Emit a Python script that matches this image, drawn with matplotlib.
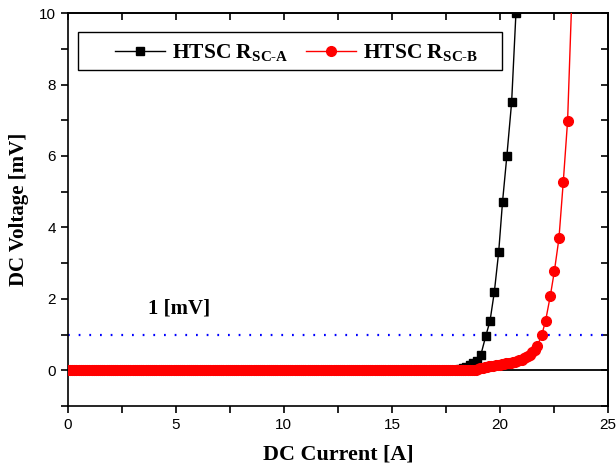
import matplotlib.pyplot as plt
from matplotlib.patches import Rectangle

plt.rcParams['mathtext.fontset'] = 'custom'
plt.rcParams['mathtext.rm'] = 'Liberation Serif'
plt.rcParams['mathtext.bf'] = 'Liberation Serif:bold'

# sample A (black squares)
current_a = [0, 0.5, 1, 1.5, 2, 2.5, 3, 3.5, 4, 4.5, 5, 5.5, 6, 6.5, 7, 7.5, 8, 8.5, 9, 9.5,
             10, 10.5, 11, 11.5, 12, 12.5, 13, 13.5, 14, 14.5, 15, 15.5, 16, 16.5, 17, 17.5,
             18.0, 18.15, 18.3, 18.45, 18.6, 18.74, 18.92, 19.12, 19.34, 19.54, 19.74, 19.94,
             20.12, 20.32, 20.54, 20.74]
voltage_a = [0.0] * 36 + [0.01, 0.04, 0.07, 0.1, 0.14, 0.2, 0.27, 0.44, 0.95, 1.38, 2.19, 3.3,
                          4.72, 6.0, 7.5, 10.0]

# sample B (red circles), dense sweep below transition
current_b = [
    0.0, 0.1, 0.2, 0.3, 0.4, 0.5, 0.6, 0.7, 0.8, 0.9,
    1.0, 1.1, 1.2, 1.3, 1.4, 1.5, 1.6, 1.7, 1.8, 1.9,
    2.0, 2.1, 2.2, 2.3, 2.4, 2.5, 2.6, 2.7, 2.8, 2.9,
    3.0, 3.1, 3.2, 3.3, 3.4, 3.5, 3.6, 3.7, 3.8, 3.9,
    4.0, 4.1, 4.2, 4.3, 4.4, 4.5, 4.6, 4.7, 4.8, 4.9,
    5.0, 5.1, 5.2, 5.3, 5.4, 5.5, 5.6, 5.7, 5.8, 5.9,
    6.0, 6.1, 6.2, 6.3, 6.4, 6.5, 6.6, 6.7, 6.8, 6.9,
    7.0, 7.1, 7.2, 7.3, 7.4, 7.5, 7.6, 7.7, 7.8, 7.9,
    8.0, 8.1, 8.2, 8.3, 8.4, 8.5, 8.6, 8.7, 8.8, 8.9,
    9.0, 9.1, 9.2, 9.3, 9.4, 9.5, 9.6, 9.7, 9.8, 9.9,
    10.0, 10.1, 10.2, 10.3, 10.4, 10.5, 10.6, 10.7, 10.8, 10.9,
    11.0, 11.1, 11.2, 11.3, 11.4, 11.5, 11.6, 11.7, 11.8, 11.9,
    12.0, 12.1, 12.2, 12.3, 12.4, 12.5, 12.6, 12.7, 12.8, 12.9,
    13.0, 13.1, 13.2, 13.3, 13.4, 13.5, 13.6, 13.7, 13.8, 13.9,
    14.0, 14.1, 14.2, 14.3, 14.4, 14.5, 14.6, 14.7, 14.8, 14.9,
    15.0, 15.1, 15.2, 15.3, 15.4, 15.5, 15.6, 15.7, 15.8, 15.9,
    16.0, 16.1, 16.2, 16.3, 16.4, 16.5, 16.6, 16.7, 16.8, 16.9,
    17.0, 17.1, 17.2, 17.3, 17.4, 17.5, 17.6, 17.7, 17.8, 17.9,
    18.0, 18.1, 18.2, 18.3, 18.4, 18.5, 18.6, 18.7, 18.8, 18.9,
    19.0, 19.1, 19.2, 19.3, 19.4, 19.5, 19.6, 19.7, 19.8, 19.9,
    20.0, 20.1, 20.2, 20.3, 20.4, 20.5, 20.6, 20.7, 20.8, 20.9,
    21.0, 21.1, 21.2, 21.3, 21.4, 21.5, 21.6,
    21.73, 21.93, 22.11, 22.33, 22.52, 22.73, 22.93, 23.13, 23.33]
voltage_b = [0.02] * 190 + [
    0.03, 0.05, 0.07, 0.09, 0.1, 0.11, 0.12, 0.13, 0.14, 0.15,
    0.16, 0.17, 0.18, 0.19, 0.2, 0.21, 0.23, 0.24, 0.26, 0.28,
    0.3, 0.33, 0.36, 0.4, 0.44, 0.5, 0.57,
    0.68, 0.98, 1.38, 2.08, 2.78, 3.69, 5.27, 6.98, 10.5]

labels = [r'HTSC R$_{\mathbf{SC‐A}}$', r'HTSC R$_{\mathbf{SC‐B}}$']
threshold = 1.0

fig = plt.figure(figsize=(6.16, 4.68), dpi=100)
ax = fig.add_axes([0.110, 0.1325, 0.877, 0.8395])

ax.axhline(0, color='black', lw=1.3, zorder=1)
ax.axhline(threshold, color='blue', lw=1.6, linestyle=(0, (0.8, 4.0)), zorder=1)

ax.plot(current_a, voltage_a, color='black', lw=1, marker='s', ms=5.2,
        label=labels[0], zorder=3)
ax.plot(current_b, voltage_b, color='red', lw=1, marker='o', ms=7,
        label=labels[1], zorder=4)

ax.text(3.7, 1.72, '1 [mV]', family='Liberation Serif', weight='bold',
        fontsize=15, va='center')

ax.set_xlim(0, 25)
ax.set_ylim(-1, 10)
ax.set_xticks([0, 5, 10, 15, 20, 25])
ax.set_xticks([2.5, 7.5, 12.5, 17.5, 22.5], minor=True)
ax.set_yticks([0, 2, 4, 6, 8, 10])
ax.set_yticks([-1, 1, 3, 5, 7, 9], minor=True)
ax.tick_params(which='both', direction='out', length=5, width=1.2,
               labelsize=11, labelfontfamily='Liberation Sans')
for s in ax.spines.values():
    s.set_linewidth(1.2)

top = ax.secondary_xaxis('top')
top.set_xticks([0, 5, 10, 15, 20, 25])
top.set_xticks([2.5, 7.5, 12.5, 17.5, 22.5], minor=True)
top.tick_params(which='both', direction='in', length=5, width=1.2, labeltop=False)
top.spines['top'].set_linewidth(1.2)
right = ax.secondary_yaxis('right')
right.set_yticks([0, 2, 4, 6, 8, 10])
right.set_yticks([-1, 1, 3, 5, 7, 9], minor=True)
right.tick_params(which='both', direction='in', length=5, width=1.2, labelright=False)
right.spines['right'].set_linewidth(1.2)

ax.set_xlabel('DC Current [A]', family='Liberation Serif', weight='bold', fontsize=15.8,
              labelpad=9)
ax.set_ylabel('DC Voltage [mV]', family='Liberation Serif', weight='bold', fontsize=15,
              labelpad=7)

# legend frame drawn separately so the entries can sit where they do in the original
ax.add_patch(Rectangle((0.0185, 0.855), 0.7855, 0.097, transform=ax.transAxes,
                       facecolor='white', edgecolor='black', lw=1, zorder=5))
leg = ax.legend(loc='center', bbox_to_anchor=(0.4235, 0.898), ncol=2, frameon=False,
                handlelength=2.35, handletextpad=0.3, columnspacing=0.8,
                borderpad=0, borderaxespad=0,
                prop={'family': 'Liberation Serif', 'weight': 'bold', 'size': 15.5})
leg.set_zorder(6)

fig.savefig('out.png', dpi=100)
